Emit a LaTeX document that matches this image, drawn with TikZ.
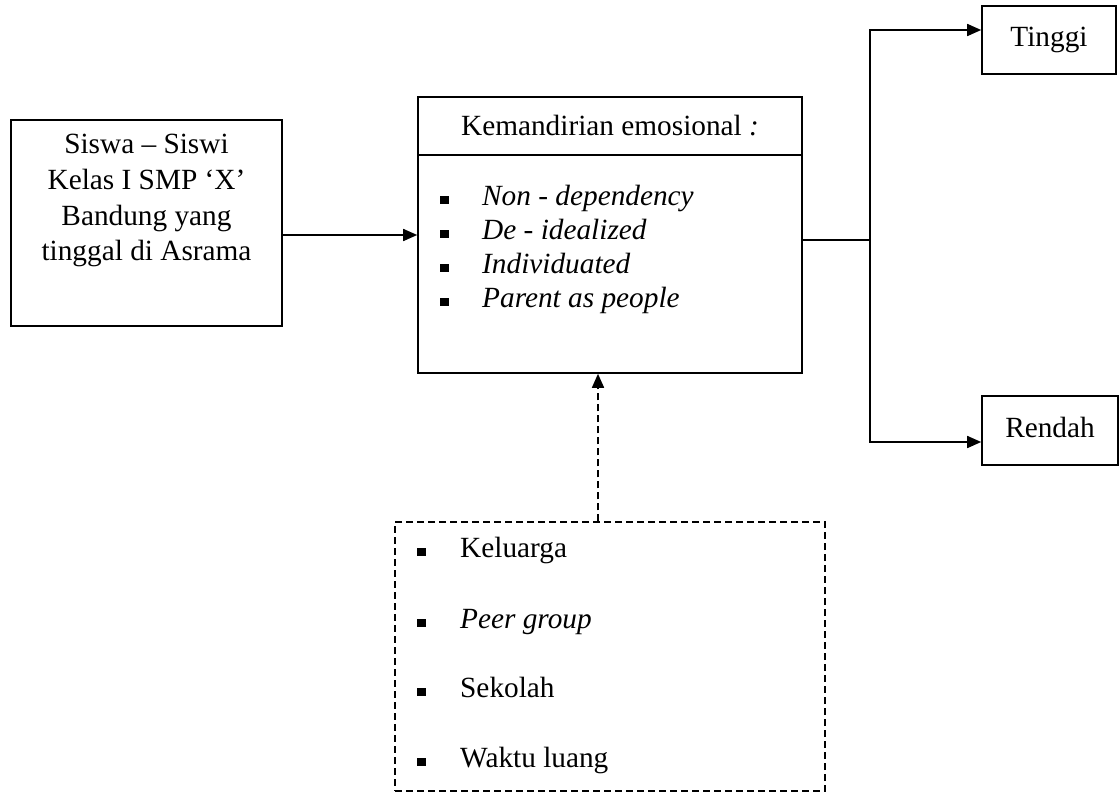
\documentclass[tikz,border=0pt]{standalone}
\usepackage{fontspec}
\setmainfont{Liberation Serif}
\usetikzlibrary{arrows.meta}
\newcommand{\bul}{\raisebox{1pt}{\rule{8.5pt}{8.5pt}}}
\begin{document}
\begin{tikzpicture}[x=1pt,y=-1pt,
  every node/.style={font=\fontsize{29.3}{35.7}\selectfont, inner sep=0pt},
  box/.style={draw, line width=1.6pt},
  dbox/.style={draw, line width=1.5pt, dash pattern=on 7pt off 4pt},
  conn/.style={line width=1.6pt},
  arr/.style={-{Triangle[length=14pt,width=12pt]}},
  item/.style={anchor=base west}]
\useasboundingbox (0,0) rectangle (1119,792);

% source box
\node[box, minimum width=271pt, minimum height=206pt] (src) at (146.5,223) {};
\node[align=center, anchor=north] (srctext) at (146.5,134) {Siswa – Siswi\\Kelas I SMP ‘X’\\Bandung yang\\tinggal di Asrama};

% central box
\node[box, minimum width=384pt, minimum height=276pt] (kem) at (610,235) {};
\coordinate (sep) at (0,155);
\draw[conn] (kem.west |- sep) -- (kem.east |- sep);
\node[anchor=base] (kemhead) at (610,135) {Kemandirian emosional \textit{:}};
\node[item] (k1) at (440,205) {\makebox[42pt][l]{\bul}\textit{Non - dependency}};
\node[item] (k2) at (440,239) {\makebox[42pt][l]{\bul}\textit{De - idealized}};
\node[item] (k3) at (440,273) {\makebox[42pt][l]{\bul}\textit{Individuated}};
\node[item] (k4) at (440,307) {\makebox[42pt][l]{\bul}\textit{Parent as people}};

% outcome boxes
\node[box, minimum width=134pt, minimum height=68pt, text height=20pt, text depth=6.4pt] (tinggi) at (1049,40) {Tinggi};
\node[box, minimum width=136pt, minimum height=69pt, text height=20pt, text depth=6.4pt] (rendah) at (1050,430.5) {Rendah};

% factors box
\node[dbox, minimum width=430pt, minimum height=269pt] (fac) at (610,656.5) {};
\node[item] (f1) at (417,557) {\makebox[43pt][l]{\bul}Keluarga};
\node[item] (f2) at (417,628) {\makebox[43pt][l]{\bul}\textit{Peer group}};
\node[item] (f3) at (417,697) {\makebox[43pt][l]{\bul}Sekolah};
\node[item] (f4) at (417,767) {\makebox[43pt][l]{\bul}Waktu luang};

% connectors
\draw[conn, arr] (src.east |- kem.west) -- (kem.west);
\coordinate (split) at (870,240);
\draw[conn] (kem.east |- split) -- (split);
\draw[conn, arr] (split) |- ([yshift=10pt]tinggi.west);
\draw[conn, arr] (split) |- ([yshift=-11.5pt]rendah.west);
\draw[conn, dash pattern=on 7pt off 4pt, arr] ([xshift=-12pt]fac.north) -- ([xshift=-12pt]kem.south);
\end{tikzpicture}
\end{document}
